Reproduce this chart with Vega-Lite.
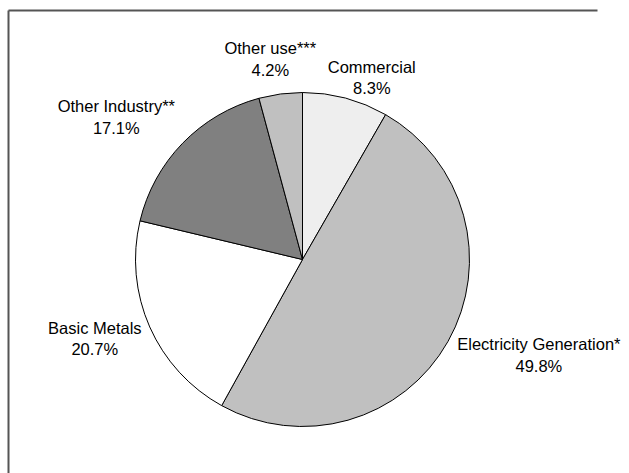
{
  "$schema": "https://vega.github.io/schema/vega-lite/v6.json",
  "autosize": "none",
  "padding": {"left": 8, "top": 10, "right": 32, "bottom": 0},
  "width": 589,
  "height": 499,
  "background": "white",
  "view": {"stroke": null, "fill": null},
  "config": {
    "view": {"stroke": null},
    "style": {"cell": {"stroke": null}, "view": {"stroke": null}},
    "axis": {"domain": true, "domainColor": "#555555", "domainWidth": 2, "ticks": false, "labels": false, "grid": false, "title": null},
    "text": {"font": "Liberation Sans", "fontSize": 16.5, "color": "#000000", "lineBreak": "\n", "lineHeight": 21.5, "align": "center", "baseline": "middle"}
  },
  "data": {
    "values": [
      {"cat": "Commercial", "value": 8.3, "idx": 1, "label": "Commercial\n8.3%"},
      {"cat": "Electricity Generation*", "value": 49.8, "idx": 2, "label": "Electricity Generation*\n49.8%"},
      {"cat": "Basic Metals", "value": 20.7, "idx": 3, "label": "Basic Metals\n20.7%"},
      {"cat": "Other Industry**", "value": 17.1, "idx": 4, "label": "Other Industry**\n17.1%"},
      {"cat": "Other use***", "value": 4.2, "idx": 5, "label": "Other use***\n4.2%"}
    ]
  },
  "layer": [
    {
      "mark": {"type": "point", "opacity": 0},
      "encoding": {
        "x": {"field": "idx", "type": "quantitative", "axis": {"orient": "top", "domainColor": "#555555"}},
        "y": {"field": "value", "type": "quantitative", "axis": {"orient": "left", "domainColor": "#555555"}}
      }
    },
    {
      "encoding": {
        "theta": {"field": "value", "type": "quantitative", "stack": true},
        "order": {"field": "idx", "type": "quantitative"}
      },
      "layer": [
        {
          "mark": {"type": "arc", "outerRadius": 167, "stroke": "#000000", "strokeWidth": 1},
          "encoding": {
            "color": {
              "field": "cat", "type": "nominal", "legend": null,
              "scale": {
                "domain": ["Commercial", "Electricity Generation*", "Basic Metals", "Other Industry**", "Other use***"],
                "range": ["#eeeeee", "#c0c0c0", "#ffffff", "#808080", "#c0c0c0"]
              }
            }
          }
        },
        {
          "mark": {"type": "text", "radius": 193.8, "thetaOffset": 0.105, "dy": -10.75},
          "encoding": {"text": {"condition": {"test": "datum.cat === 'Commercial'", "field": "label"}, "value": ""}}
        },
        {
          "mark": {"type": "text", "radius": 255.3, "thetaOffset": -0.1257, "dy": -10.75},
          "encoding": {"text": {"condition": {"test": "datum.cat === 'Electricity Generation*'", "field": "label"}, "value": ""}}
        },
        {
          "mark": {"type": "text", "radius": 222.6, "thetaOffset": 0.0477, "dy": -10.75},
          "encoding": {"text": {"condition": {"test": "datum.cat === 'Basic Metals'", "field": "label"}, "value": ""}}
        },
        {
          "mark": {"type": "text", "radius": 233.9, "thetaOffset": -0.1203, "dy": -10.75},
          "encoding": {"text": {"condition": {"test": "datum.cat === 'Other Industry**'", "field": "label"}, "value": ""}}
        },
        {
          "mark": {"type": "text", "radius": 201.9, "thetaOffset": -0.0284, "dy": -10.75},
          "encoding": {"text": {"condition": {"test": "datum.cat === 'Other use***'", "field": "label"}, "value": ""}}
        }
      ]
    }
  ]
}
